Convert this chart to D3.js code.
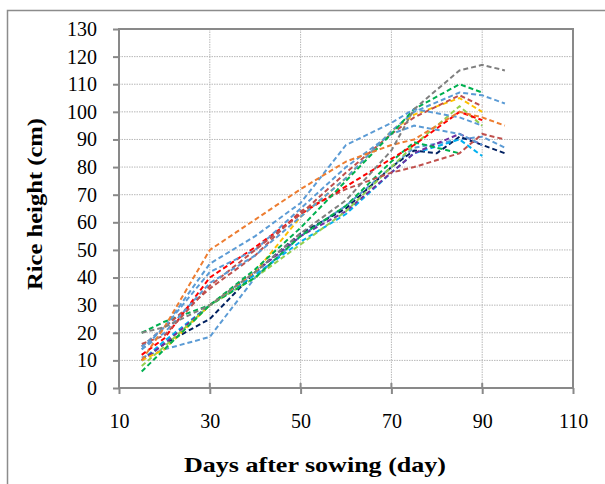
<!DOCTYPE html>
<html>
<head>
<meta charset="utf-8">
<script src="https://cdn.jsdelivr.net/npm/d3@7"></script>
<style>
  body { margin: 0; background: #fff; }
  text { font-family: "Liberation Serif", "DejaVu Serif", serif; fill: #000; }
</style>
</head>
<body>
<div id="chart"></div>
<script>
// sampling days (x) and rice height per plot (cm), null = not measured
const days = [15, 20, 30, 40, 50, 60, 70, 75, 80, 85, 90, 95];

const gray1   = [20, 22, 30, 42, 56, 68, 86, 101, null, 115, 117, 115];
const green1  = [6, 14, 30, 43, 58, 75, 92, 101, null, 110, 107, null];
const green2  = [20, 24, 30, 40, 55, 66, 82, 89, 87, 85, null, null];
const blue1   = [14, 20, 38, 48, 62, 76, 93, 100, null, 107, 106, 103];
const brown1  = [16, 19, 37, 50, 63, 78, 92, 98, null, 106, 102, null];
const yellow1 = [10, 14, 30, 42, 62, 76, 93, 99, null, 105, 100, null];
const lime1   = [8, 15, 30, 40, 52, 64, 80, 88, null, 102, 95, null];
const orange1 = [10, 22, 50, 61, 72, 82, 88, 90, null, 100, 98, 95];
const red1    = [12, 18, 40, 51, 63, 73, 83, 88, null, 100, 97, null];
const brown2  = [15, 22, 36, 48, 64, 72, 78, 80, null, 85, 92, 90];
const purple1 = [10, 16, 30, 42, 55, 64, 78, 85, null, 92, 88, null];
const navy1   = [10, 16, 25, 42, 56, 65, 80, 86, 85, 91, null, 85];
const sky1    = [10, 17, 30, 41, 53, 63, 78, 85, null, 90, 84, null];
const blue2   = [11, 14, 18.5, 40, 55, 66, 80, 87, null, 90, 91, 87];
const blue3   = [14, 22, 45, 55, 67, 88, 96, 101, null, 98, 95, null];
const blue4   = [15, 22, 42, 50, 65, 80, 92, 95, null, 92, 88, null];

const xTicks = [10, 30, 50, 70, 90, 110];
const yTicks = d3.range(0, 131, 10);

const series = [
  { values: blue2, color: "#5B9BD5" },
  { values: navy1, color: "#002060" },
  { values: sky1, color: "#00B0F0" },
  { values: purple1, color: "#7030A0" },
  { values: lime1, color: "#92D050" },
  { values: green2, color: "#00B050" },
  { values: brown2, color: "#C0504D" },
  { values: red1, color: "#FF0000" },
  { values: yellow1, color: "#FFC000" },
  { values: blue4, color: "#5B9BD5" },
  { values: brown1, color: "#C0504D" },
  { values: blue1, color: "#5B9BD5" },
  { values: green1, color: "#00B050" },
  { values: blue3, color: "#5B9BD5" },
  { values: orange1, color: "#ED7D31" },
  { values: gray1, color: "#7F7F7F" }
];

const W = 605, H = 484;
const margin = { top: 29, right: 32, bottom: 96, left: 119 };
const width = W - margin.left - margin.right,
  height = H - margin.top - margin.bottom;

const svg = d3.select("#chart").append("svg")
  .attr("width", W)
  .attr("height", H);

// outer chart frame
svg.append("rect")
  .attr("x", 7.5).attr("y", 10.5)
  .attr("width", 700).attr("height", 600)
  .attr("fill", "none")
  .attr("stroke", "#8c8c8c")
  .attr("stroke-width", 1.5);

const g = svg.append("g")
  .attr("transform", "translate(" + margin.left + "," + margin.top + ")");

const x = d3.scaleLinear().domain([10, 110]).range([0, width]);
const y = d3.scaleLinear().domain([0, 130]).range([height, 0]);

// grid
g.append("g").selectAll("line.h")
  .data(yTicks.slice(1))
  .join("line")
  .attr("x1", 0).attr("x2", width)
  .attr("y1", d => y(d)).attr("y2", d => y(d))
  .attr("stroke", "#b8b8b8")
  .attr("stroke-width", 1)
  .attr("stroke-dasharray", "1.5,1");
g.append("g").selectAll("line.v")
  .data(xTicks.slice(1))
  .join("line")
  .attr("x1", d => x(d)).attr("x2", d => x(d))
  .attr("y1", 0).attr("y2", height)
  .attr("stroke", "#b8b8b8")
  .attr("stroke-width", 1)
  .attr("stroke-dasharray", "1.5,1");

// y axis
const yAxis = g.append("g")
  .call(d3.axisLeft(y).tickValues(yTicks).tickSize(6).tickPadding(16));
// x axis
const xAxis = g.append("g")
  .attr("transform", "translate(0," + height + ")")
  .call(d3.axisBottom(x).tickValues(xTicks).tickSize(6).tickPadding(20));
g.append("g").selectAll("line")
  .data(xTicks)
  .join("line")
  .attr("x1", d => x(d)).attr("x2", d => x(d))
  .attr("y1", height - 5).attr("y2", height)
  .attr("stroke", "#898989").attr("stroke-width", 2);

[yAxis, xAxis].forEach(a => {
  a.select(".domain").remove();
  a.selectAll(".tick line").attr("stroke", "#898989").attr("stroke-width", 2);
  a.selectAll(".tick text")
    .style("font-family", '"Liberation Serif", serif')
    .style("font-size", "20px")
    .attr("fill", "#000");
});

// plot frame
g.append("rect")
  .attr("width", width).attr("height", height)
  .attr("fill", "none")
  .attr("stroke", "#898989")
  .attr("stroke-width", 2);

// dashed lines
const line = d3.line()
  .x(d => x(d[0]))
  .y(d => y(d[1]));

g.append("g").selectAll("path")
  .data(series)
  .join("path")
  .attr("fill", "none")
  .attr("stroke", d => d.color)
  .attr("stroke-width", 2)
  .attr("stroke-dasharray", "5,3")
  .attr("d", d => line(days.map((v, i) => [v, d.values[i]]).filter(p => p[1] != null)));

// axis titles
svg.append("text")
  .attr("x", 315)
  .attr("y", 472)
  .attr("text-anchor", "middle")
  .attr("textLength", 262)
  .attr("lengthAdjust", "spacingAndGlyphs")
  .style("font-size", "22px")
  .style("font-weight", "bold")
  .text("Days after sowing (day)");

svg.append("text")
  .attr("transform", "translate(42,204) rotate(-90)")
  .attr("text-anchor", "middle")
  .attr("textLength", 172)
  .attr("lengthAdjust", "spacingAndGlyphs")
  .style("font-size", "22px")
  .style("font-weight", "bold")
  .text("Rice height (cm)");
</script>
</body>
</html>
